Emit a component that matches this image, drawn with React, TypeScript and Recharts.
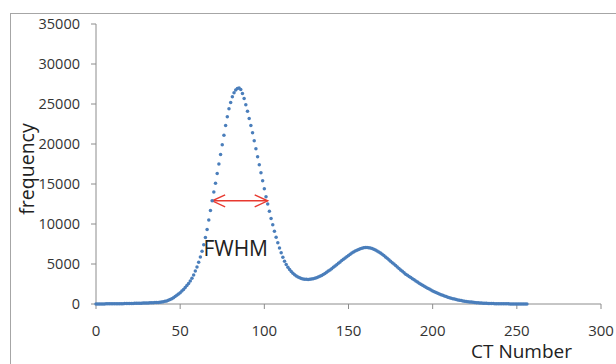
import React from 'react';
import { ScatterChart, Scatter, XAxis, YAxis, ReferenceLine, ReferenceDot } from 'recharts';

const ctNumbers: number[] = Array.from({ length: 257 }, (_, i) => i);

const frequency: number[] = [
  10, 10, 12, 12, 14, 15, 16, 18, 20, 22,
  25, 28, 30, 33, 36, 40, 44, 48, 53, 58,
  64, 70, 76, 82, 88, 95, 100, 108, 115, 122,
  130, 138, 146, 155, 165, 175, 185, 197, 210, 240,
  280, 330, 390, 460, 550, 660, 790, 930, 1080, 1240,
  1420, 1610, 1820, 2050, 2300, 2570, 2880, 3230, 3640, 4110,
  4640, 5230, 5880, 6600, 7400, 8300, 9300, 10500, 11700, 12900,
  14000, 15100, 16300, 17500, 18700, 19900, 21100, 22300, 23400, 24400,
  25200, 25900, 26400, 26750, 26950, 27000, 26800, 26300, 25700, 24900,
  24100, 23200, 22300, 21400, 20400, 19400, 18400, 17400, 16400, 15400,
  14400, 13400, 12500, 11600, 10700, 9900, 9100, 8350, 7650, 7000,
  6400, 5850, 5350, 4950, 4600, 4300, 4050, 3850, 3650, 3500,
  3380, 3280, 3200, 3140, 3100, 3080, 3070, 3080, 3110, 3160,
  3220, 3290, 3370, 3460, 3570, 3690, 3820, 3960, 4110, 4260,
  4420, 4580, 4750, 4920, 5090, 5260, 5430, 5600, 5760, 5920,
  6070, 6220, 6360, 6490, 6610, 6720, 6820, 6900, 6970, 7020,
  7050, 7060, 7040, 7000, 6940, 6850, 6750, 6630, 6500, 6360,
  6210, 6050, 5880, 5710, 5530, 5350, 5170, 4990, 4800, 4620,
  4440, 4260, 4080, 3900, 3730, 3600, 3450, 3300, 3160, 3020,
  2880, 2740, 2600, 2470, 2340, 2210, 2090, 1970, 1860, 1750,
  1640, 1540, 1440, 1340, 1250, 1160, 1080, 1000, 925, 855,
  790, 725, 665, 610, 560, 510, 465, 425, 385, 350,
  320, 290, 260, 235, 210, 190, 170, 152, 136, 122,
  108, 96, 85, 75, 66, 58, 51, 45, 40, 35,
  31, 27, 24, 21, 19, 17, 15, 13, 12, 11,
  10, 9, 8, 7, 6, 6, 5,
];

const xTicks: number[] = [0, 50, 100, 150, 200, 250, 300];
const yTicks: number[] = [0, 5000, 10000, 15000, 20000, 25000, 30000, 35000];

const fwhmStart = { x: 69, y: 12900 };
const fwhmEnd = { x: 102, y: 12900 };
const fwhmLabelPos = { x: 83, y: 7000 };

const data = ctNumbers.map((x, i) => ({ x, y: frequency[i] }));

const FONT = '"Open Sans", "DejaVu Sans", sans-serif';
const DOT = '#4a7ebb';

const DotShape = (props: any) => {
  const { cx, cy } = props;
  if (cx == null || cy == null) return null;
  return <circle cx={cx} cy={cy} r={1.75} fill={DOT} />;
};

const ArrowShape = (props: any) => {
  const { x1, y1, x2, y2 } = props;
  if (x1 == null) return null;
  const c = '#e8392f';
  const h = 6;
  const w = 13;
  return (
    <g stroke={c} strokeWidth={1.4} fill="none">
      <line x1={x1} y1={y1} x2={x2} y2={y2} />
      <polyline points={`${x1 + w},${y1 - h} ${x1},${y1} ${x1 + w},${y1 + h}`} />
      <polyline points={`${x2 - w},${y2 - h} ${x2},${y2} ${x2 - w},${y2 + h}`} />
    </g>
  );
};

const FwhmText = (props: any) => {
  const { cx, cy } = props;
  if (cx == null) return null;
  return (
    <text x={cx} y={cy} textAnchor="middle" dominantBaseline="central" fontFamily={FONT} fontSize={21} fill="#222">
      FWHM
    </text>
  );
};

const XLabel = (props: any) => {
  const vb = props.viewBox || { x: 96, y: 304, width: 505, height: 30 };
  return (
    <text x={vb.x + vb.width - 29} y={vb.y + 54} textAnchor="end" fontFamily={FONT} fontSize={19} fill="#222">
      CT Number
    </text>
  );
};

const YLabel = (props: any) => {
  const vb = props.viewBox || { x: 0, y: 24, width: 96, height: 280 };
  const cx = vb.x + 26;
  const cy = vb.y + 145;
  return (
    <text
      x={cx}
      y={cy}
      transform={`rotate(-90, ${cx}, ${cy})`}
      textAnchor="middle"
      dominantBaseline="central"
      fontFamily={FONT}
      fontSize={19.5}
      fill="#222"
    >
      frequency
    </text>
  );
};

export default function App() {
  return (
    <div style={{ position: 'absolute', left: 0, top: 0, width: 616, height: 364, background: '#ffffff', overflow: 'hidden' }}>
      <div style={{ position: 'absolute', left: 10, top: 13, width: 620, height: 1, background: '#a6a6a6' }} />
      <div style={{ position: 'absolute', left: 10, top: 13, width: 1, height: 360, background: '#a6a6a6' }} />
      <div style={{ position: 'absolute', left: 0, top: 0 }}>
        <ScatterChart width={616} height={364} margin={{ top: 24, right: 15, bottom: 30, left: 0 }}>
          <XAxis
            type="number"
            dataKey="x"
            domain={[0, 300]}
            ticks={xTicks}
            interval={0}
            height={30}
            stroke="#8c8c8c"
            tickSize={5}
            tickMargin={16}
            tick={{ fill: '#333', fontSize: 15, fontFamily: FONT }}
            label={<XLabel />}
          />
          <YAxis
            type="number"
            dataKey="y"
            domain={[0, 35000]}
            ticks={yTicks}
            interval={0}
            width={96}
            stroke="#8c8c8c"
            tickSize={5}
            tickMargin={11}
            tick={{ fill: '#333', fontSize: 14.5, fontFamily: FONT }}
            label={<YLabel />}
          />
          <Scatter data={data} isAnimationActive={false} shape={<DotShape />} />
          <ReferenceLine segment={[fwhmStart, fwhmEnd]} shape={<ArrowShape />} ifOverflow="visible" />
          <ReferenceDot x={fwhmLabelPos.x} y={fwhmLabelPos.y} r={0} shape={<FwhmText />} ifOverflow="visible" />
        </ScatterChart>
      </div>
    </div>
  );
}
